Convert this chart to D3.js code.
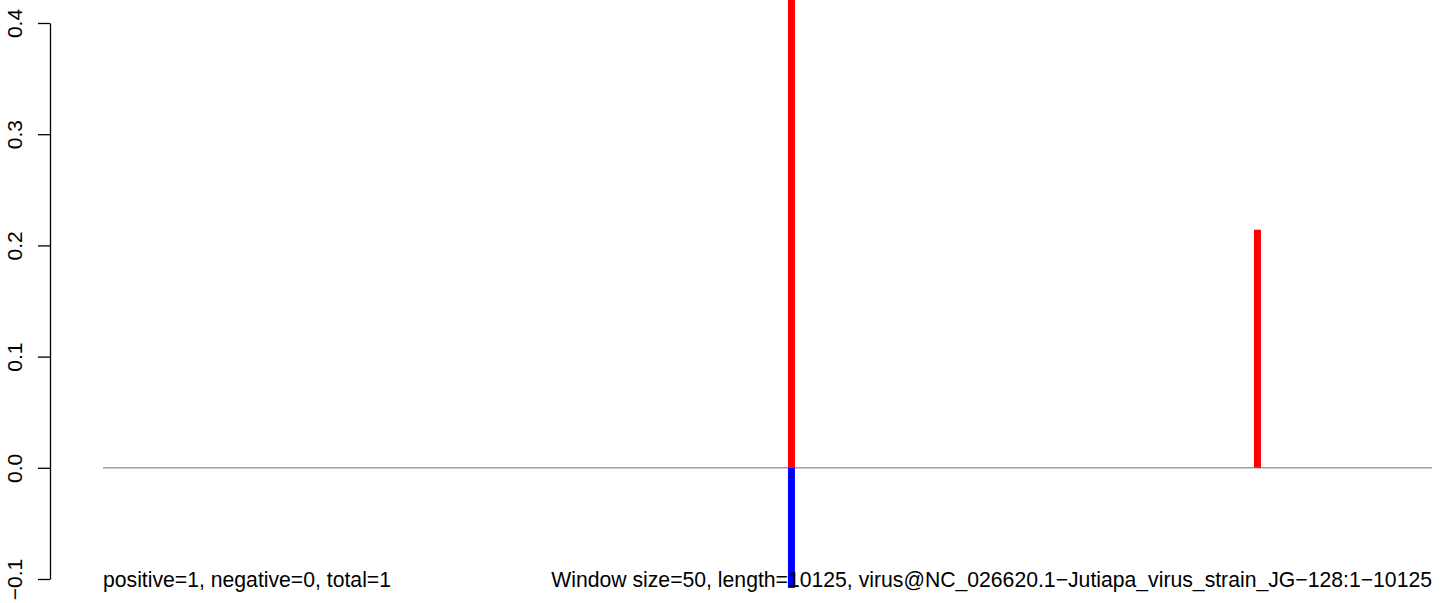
<!DOCTYPE html>
<html><head><meta charset="utf-8">
<script src="https://cdn.jsdelivr.net/npm/d3@7"></script>
<style>body{margin:0;background:#fff}svg{display:block}text{font-family:"Liberation Sans",Arial,sans-serif}</style>
</head><body>
<script>
const positions = [5260, 5260, 9094];
const values = [0.43, -0.108, 0.214];
const colors = ["#ff0000", "#0000ff", "#ff0000"];
const yTicks = [-0.1, 0, 0.1, 0.2, 0.3, 0.4];
const seqLength = 10125;
const leftLabel = "positive=1, negative=0, total=1";
const rightLabel = "Window size=50, length=10125, virus@NC_026620.1\u2212Jutiapa_virus_strain_JG\u2212128:1\u221210125";

const W = 1444, H = 603;
const svg = d3.select("body").append("svg").attr("width", W).attr("height", H);
const ext = (seqLength - 1) * 0.04;
const x = d3.scaleLinear().domain([1 - ext, seqLength + ext]).range([103, 1432]);
const y = d3.scaleLinear().domain([-0.1, 0.4]).range([579, 23]);

// zero line
svg.append("line").attr("x1", x.range()[0]).attr("x2", x.range()[1])
  .attr("y1", y(0)).attr("y2", y(0)).attr("stroke", "#a0a0a0").attr("stroke-width", 1.5);

// bars
svg.selectAll("line.bar").data(values).enter().append("line").attr("class", "bar")
  .attr("x1", (d, i) => x(positions[i])).attr("x2", (d, i) => x(positions[i]))
  .attr("y1", y(0)).attr("y2", d => y(d))
  .attr("stroke", (d, i) => colors[i]).attr("stroke-width", 7);

// y axis
const ax = svg.append("g").attr("transform", "translate(50,0)")
  .call(d3.axisLeft(y).tickValues(yTicks).tickSize(12).tickSizeOuter(0)
    .tickFormat(d => d3.format(".1f")(d).replace("-", "\u2212")));
ax.select(".domain").attr("stroke", "#000").attr("stroke-width", 1.3);
ax.selectAll(".tick line").attr("stroke", "#000").attr("stroke-width", 1.3);
ax.selectAll(".tick text").attr("transform", "rotate(-90)")
  .attr("x", 0).attr("y", -28).attr("dy", 0).attr("text-anchor", "middle")
  .attr("font-size", 21).attr("fill", "#000")
  .style("font-family", '"Liberation Sans",Arial,sans-serif');

// bottom labels
svg.append("text").attr("x", 103).attr("y", 587).attr("font-size", 21.2).attr("fill", "#000").text(leftLabel);
svg.append("text").attr("x", 1432).attr("y", 587).attr("font-size", 21.2).attr("text-anchor", "end").attr("fill", "#000").text(rightLabel);
</script>
</body></html>
